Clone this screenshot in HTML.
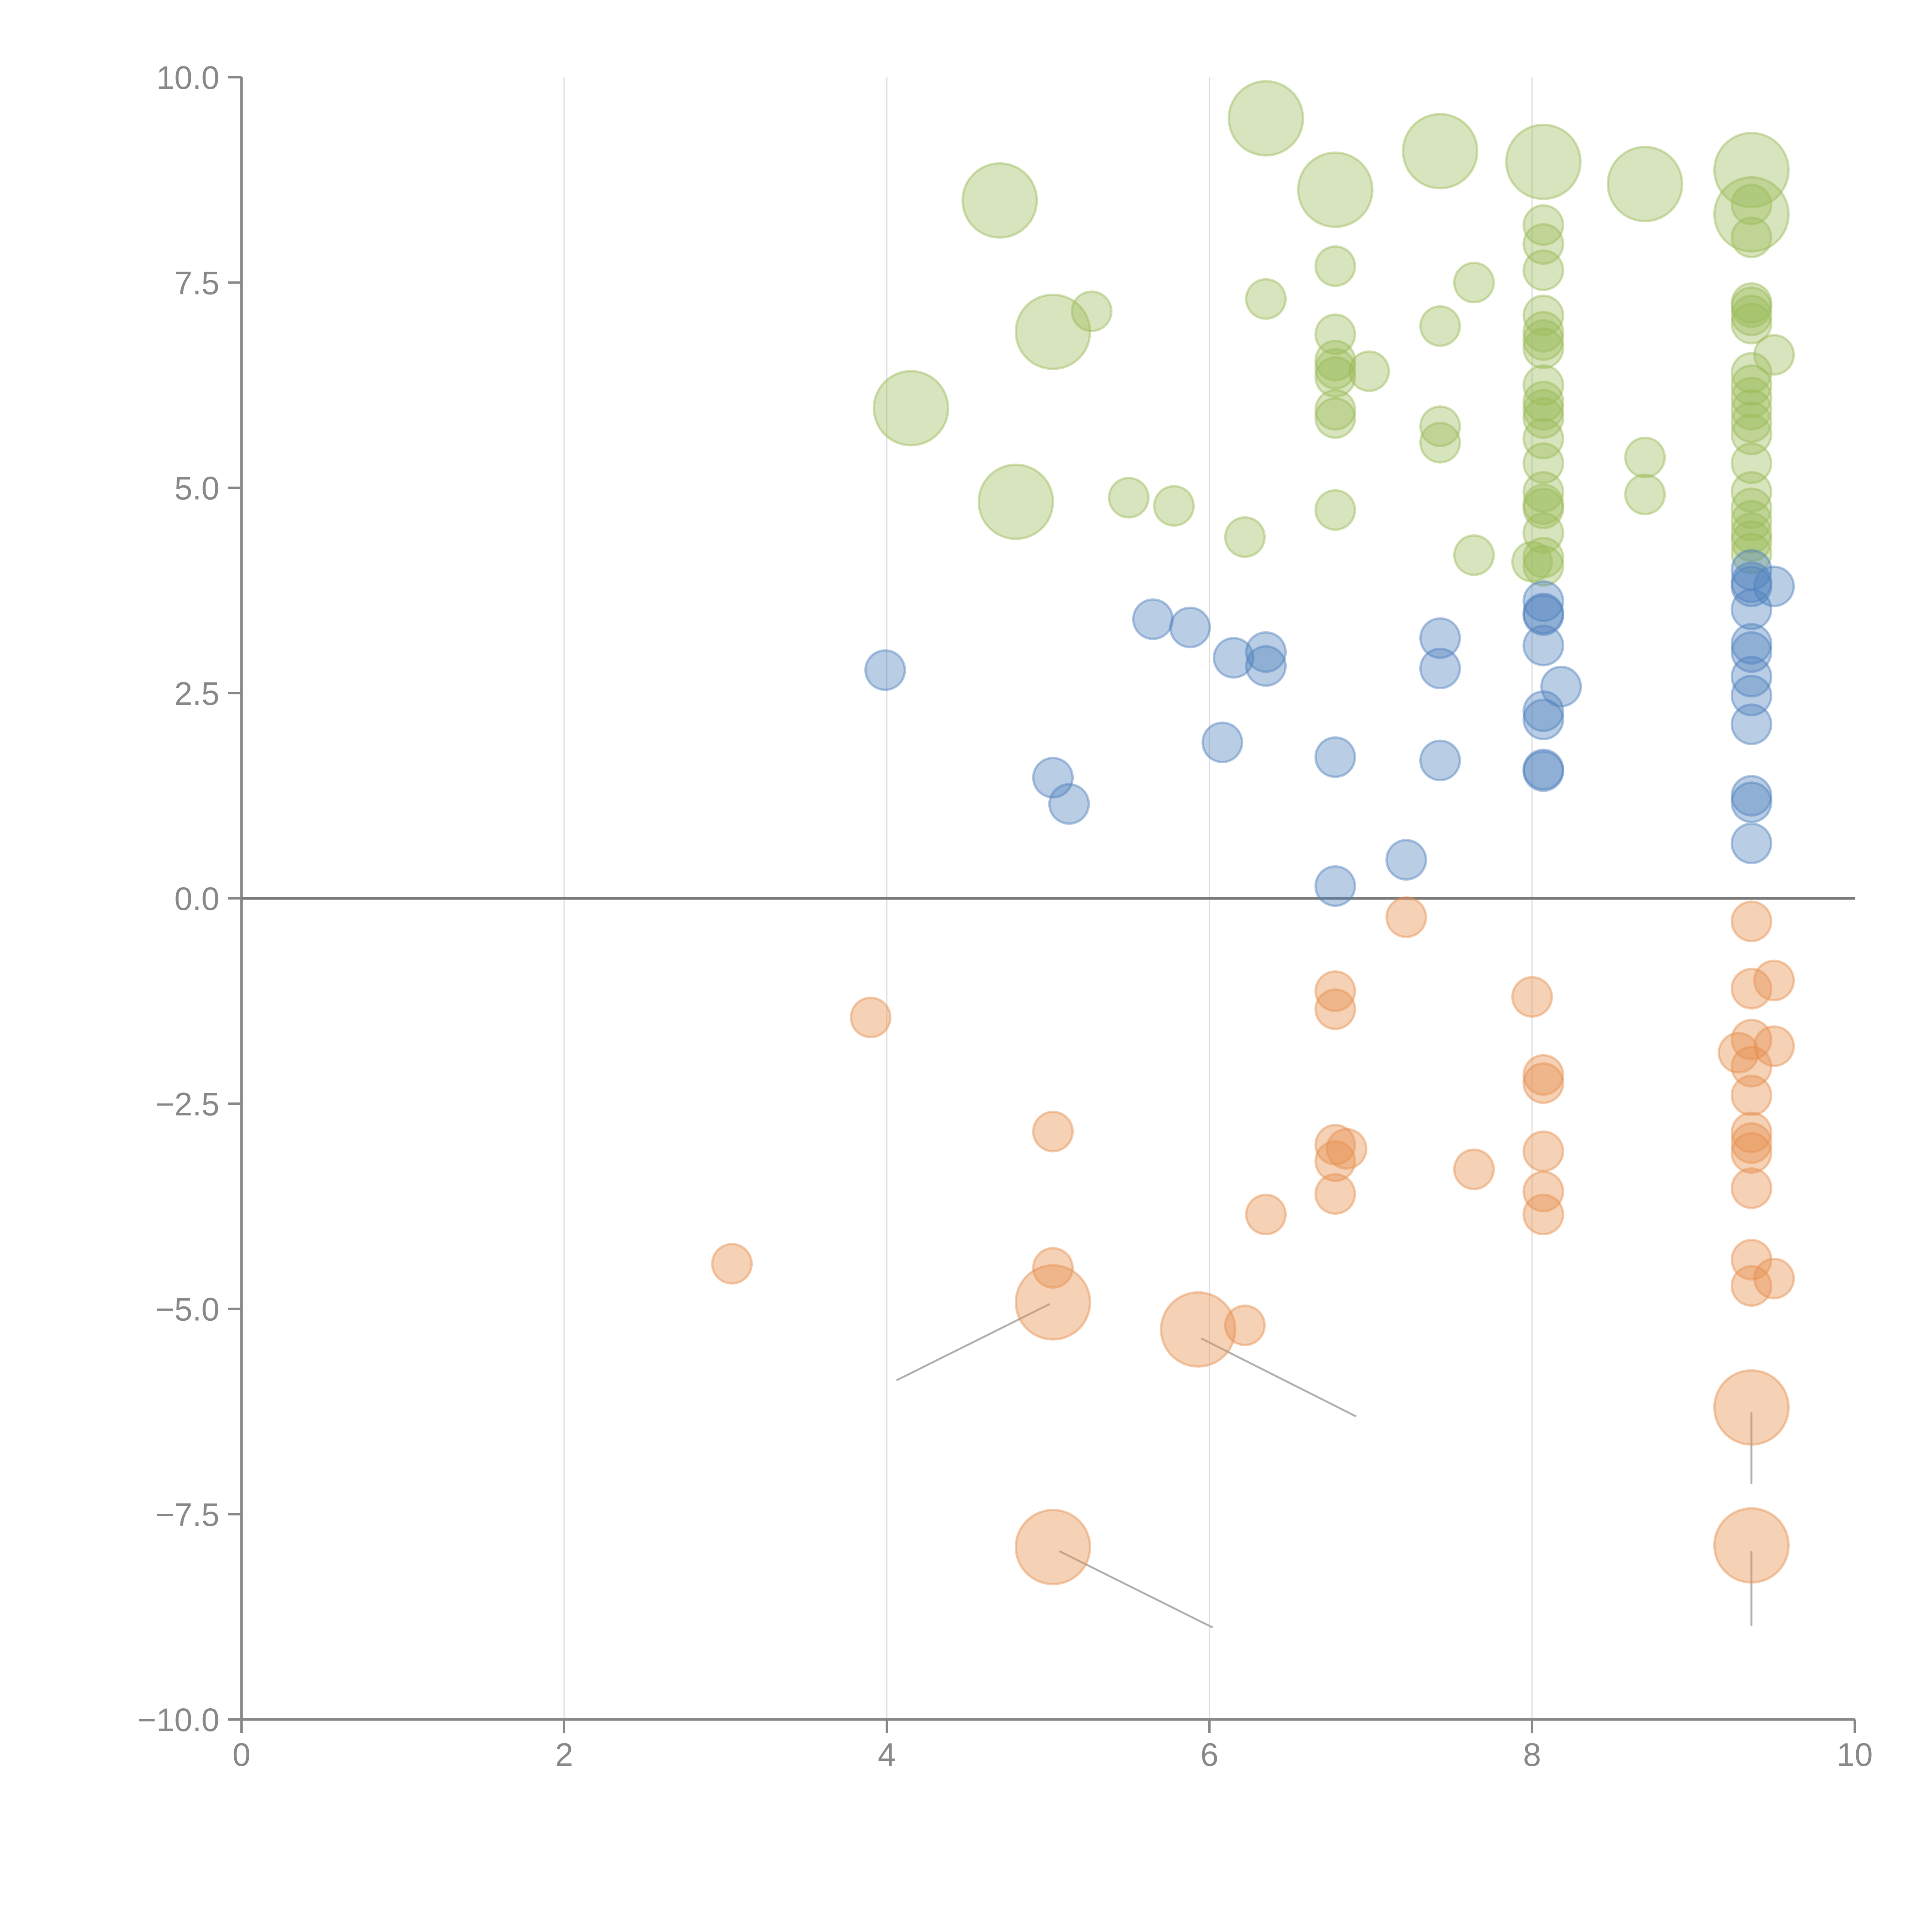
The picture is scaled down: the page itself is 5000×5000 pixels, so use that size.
<!DOCTYPE html>
<html><head><meta charset="utf-8"><style>
html,body{margin:0;padding:0;background:#fff;}
svg{display:block;}
text{font-family:"Liberation Sans",sans-serif;fill:#888;}
</style></head>
<body>
<svg id="chart" width="5000" height="5000" viewBox="0 0 5000 5000" xmlns="http://www.w3.org/2000/svg">
<g id="grid"></g>
<g id="axes"></g>
<g id="leaders"></g>
<g id="marks"></g>
</svg>
<script>
const xTicks=[0,2,4,6,8,10];
const yTicks=[10,7.5,5,2.5,0,-2.5,-5,-7.5,-10];
const yTickLabels=["10.0","7.5","5.0","2.5","0.0","\u22122.5","\u22125.0","\u22127.5","\u221210.0"];
const greenX=[4.7,6.35,7.43,6.78,8.07,8.7,9.36,9.36,5.03,4.15,4.8,5.27,6.35,6.78,7.64,7.43,6.78,6.78,6.78,6.78,6.99,6.78,6.78,7.43,7.43,8.7,8.7,5.5,5.78,6.78,6.22,7.64,8.0,8.07,8.07,8.07,8.07,8.07,8.07,8.07,8.07,8.07,8.07,8.07,8.07,8.07,8.07,8.07,8.07,8.07,8.07,8.07,9.36,9.36,9.36,9.36,9.36,9.36,9.5,9.36,9.36,9.36,9.36,9.36,9.36,9.36,9.36,9.36,9.36,9.36,9.36,9.36];
const greenY=[8.5,9.5,9.1,8.63,8.97,8.7,8.87,8.33,6.9,5.97,4.83,7.15,7.3,7.7,7.5,6.97,6.87,6.55,6.45,6.35,6.42,5.95,5.85,5.75,5.55,5.37,4.92,4.88,4.78,4.73,4.4,4.18,4.1,8.2,7.97,7.65,7.1,6.9,6.8,6.7,6.25,6.05,5.95,5.85,5.6,5.3,4.95,4.8,4.75,4.45,4.15,4.05,8.45,8.05,7.25,7.2,7.1,7.0,6.62,6.4,6.25,6.1,5.95,5.8,5.65,5.3,4.95,4.75,4.6,4.45,4.35,4.2];
const greenSize=[2,2,2,2,2,2,2,2,2,2,2];
const blueX=[3.99,5.65,5.88,6.15,6.35,6.35,6.08,5.03,5.13,6.78,6.78,7.43,7.43,7.43,7.22,8.07,8.07,8.07,8.07,8.18,8.07,8.07,8.07,8.07,9.36,9.36,9.36,9.5,9.36,9.36,9.36,9.36,9.36,9.36,9.36,9.36,9.36];
const blueY=[2.78,3.4,3.3,2.93,3.0,2.83,1.9,1.47,1.15,1.72,0.15,3.17,2.8,1.68,0.47,3.62,3.47,3.45,3.08,2.58,2.28,2.18,1.57,1.55,4.0,3.85,3.8,3.8,3.52,3.1,3.0,2.7,2.47,2.12,1.25,1.17,0.67];
const orangeX=[5.03,5.93,9.36,5.03,9.36,3.9,3.04,5.03,5.03,6.22,6.35,6.78,6.78,6.78,6.85,6.78,6.78,7.22,7.64,8.0,8.07,8.07,8.07,8.07,8.07,9.36,9.36,9.5,9.36,9.5,9.28,9.36,9.36,9.36,9.36,9.36,9.36,9.36,9.36,9.5];
const orangeY=[-4.92,-5.25,-6.2,-7.9,-7.88,-1.45,-4.45,-2.84,-4.5,-5.2,-3.85,-1.13,-1.35,-3.0,-3.05,-3.2,-3.6,-0.23,-3.3,-1.2,-2.15,-2.25,-3.08,-3.57,-3.85,-0.28,-1.1,-1.0,-1.72,-1.8,-1.88,-2.05,-2.4,-2.85,-2.98,-3.1,-3.53,-4.4,-4.72,-4.63];
const orangeSize=[2,2,2,2,2];
const leaderX1=[4.06,5.95,9.36,5.07,9.36];
const leaderY1=[-5.87,-5.36,-6.26,-7.95,-7.95];
const leaderX2=[5.01,6.91,9.36,6.02,9.36];
const leaderY2=[-4.94,-6.31,-7.13,-8.88,-8.86];

const X0=625,X1=4800,Y0=200,Y1=4450;
function sx(v){return X0+(v-0)/10*(X1-X0);}
function sy(v){return Y0+(10-v)/20*(Y1-Y0);}
const NS="http://www.w3.org/2000/svg";
function mk(tag,parent,attrs){const e=document.createElementNS(NS,tag);for(const k in attrs)e.setAttribute(k,attrs[k]);parent.appendChild(e);return e;}
const grid=document.getElementById('grid'),axes=document.getElementById('axes'),marks=document.getElementById('marks'),leaders=document.getElementById('leaders');

xTicks.forEach(t=>{
  if(t>0&&t<10){
    const g=mk('line',grid,{x1:sx(t),x2:sx(t),y1:Y0,y2:Y1,stroke:'#dcdcdc','stroke-width':3});
    
    
  }
  const tk=mk('line',axes,{x1:sx(t),x2:sx(t),y1:Y1,y2:Y1+35,stroke:'#888','stroke-width':6});
  
  
  const lb=mk('text',axes,{x:sx(t),y:Y1+120,'text-anchor':'middle','font-size':84});
  lb.textContent=String(t);
  
  
});
yTicks.forEach((t,i)=>{
  const tk=mk('line',axes,{x1:X0-35,x2:X0,y1:sy(t),y2:sy(t),stroke:'#888','stroke-width':6});
  
  
  const lb=mk('text',axes,{x:X0-57,y:sy(t)+30,'text-anchor':'end','font-size':84});
  lb.textContent=yTickLabels[i];
  
  
});
const ya=mk('line',axes,{x1:X0,x2:X0,y1:Y0,y2:Y1,stroke:'#888','stroke-width':6});


const xa=mk('line',axes,{x1:X0,x2:X1,y1:Y1,y2:Y1,stroke:'#888','stroke-width':6});


const zl=mk('line',axes,{x1:X0,x2:X1,y1:sy(0),y2:sy(0),stroke:'#7a7a7a','stroke-width':7});



function series(xs,ys,sizes,fill,stroke,name){
  xs.forEach((x,i)=>{
    const r=(sizes[i]||1)===2?96:51;
    const c=mk('circle',marks,{cx:sx(x),cy:sy(ys[i]),r:r,fill:fill,stroke:stroke,'stroke-width':6});
    
    
  });
}
series(greenX,greenY,greenSize,'rgba(155,187,89,0.4)','rgba(155,187,89,0.45)','green-bubble');
series(blueX,blueY,[],'rgba(79,129,189,0.4)','rgba(79,129,189,0.45)','blue-bubble');
series(orangeX,orangeY,orangeSize,'rgba(230,145,80,0.42)','rgba(230,145,80,0.45)','orange-bubble');

leaderX1.forEach((x,i)=>{
  const l=mk('line',leaders,{x1:sx(x),y1:sy(leaderY1[i]),x2:sx(leaderX2[i]),y2:sy(leaderY2[i]),stroke:'#b0b0b0','stroke-width':5});
  
  
});
</script>
</body></html>
